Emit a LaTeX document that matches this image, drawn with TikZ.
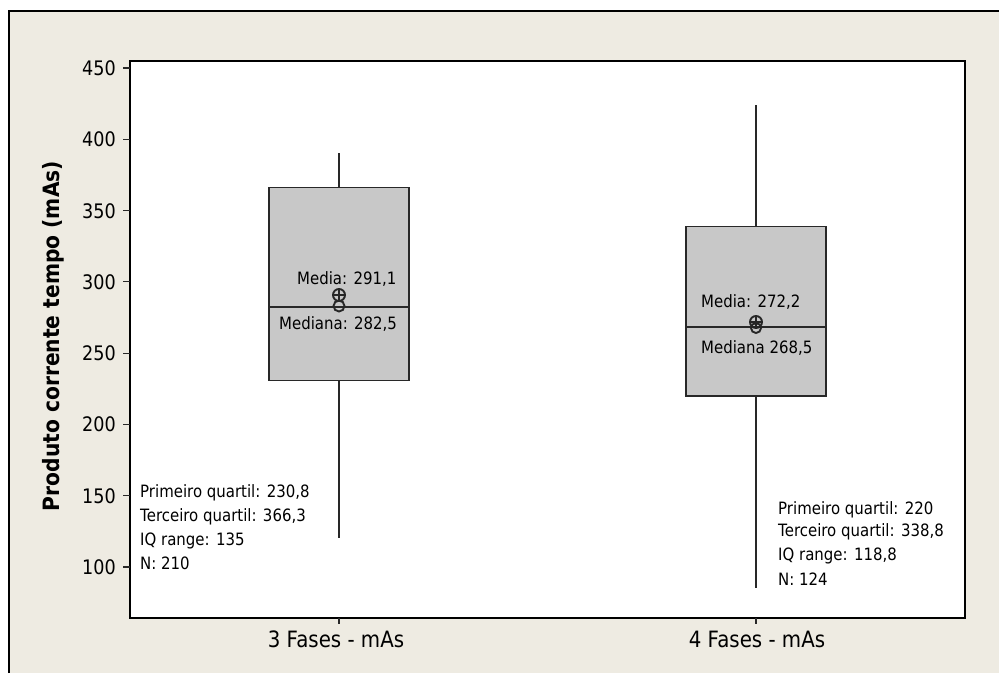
\documentclass[tikz,border=0pt]{standalone}
\usepackage{fontspec}
\setmainfont{DejaVu Sans}[FakeStretch=0.88]
\newfontfamily\titlefont{DejaVu Sans Bold}[FakeStretch=0.9]
\definecolor{bgbeige}{RGB}{238,235,226}
\definecolor{boxgray}{RGB}{200,200,200}
\definecolor{linegray}{RGB}{40,40,40}
\tikzset{
  framel/.style={line width=1.5pt, draw=black},
  boxst/.style={line width=1.5pt, draw=linegray, fill=boxgray},
  whisk/.style={line width=1.6pt, draw=linegray},
  tickl/.style={line width=1.2pt, draw=linegray},
  ticklab/.style={anchor=base east, inner sep=0pt, font=\fontsize{20}{24}\selectfont},
  annot/.style={anchor=base west, inner sep=0pt, font=\fontsize{17}{20}\selectfont},
  xlab/.style={anchor=base, inner sep=0pt, font=\fontsize{22.5}{26}\selectfont},
  meansym/.style={line width=1.9pt, draw=black!85},
}
\begin{document}
\begin{tikzpicture}[x=1pt,y=-1pt]
\useasboundingbox (0,0) rectangle (999,673);
\fill[white] (0,0) rectangle (999,673);
\fill[bgbeige] (9,11) rectangle (999,673);
\draw[line width=1.5pt] (9,673) -- (9,11) -- (999,11);
% plot area
\draw[framel, fill=white] (130,61) rectangle (965,618);
% y ticks
\foreach \v in {100,150,...,450}{
  \pgfmathsetmacro{\yy}{68+(450-\v)*1.4257}
  \draw[tickl] (123,\yy) -- (130,\yy);
  \node[ticklab] (t\v) at (116,\yy+7.5) {\v};
}
% x ticks
\draw[tickl] (339,618) -- (339,624);
\draw[tickl] (756,618) -- (756,624);
\node[xlab] (xl1) at (336,647) {3 Fases - mAs};
\node[xlab] (xl2) at (757,647) {4 Fases - mAs};
% axis title
\node[rotate=90, inner sep=0pt, font=\titlefont\fontsize{22.5}{26}\selectfont] (ytitle) at (53,336) {Produto corrente tempo (mAs)};
% box 1
\coordinate (w1t) at (339,153);
\coordinate (w1b) at (339,538);
\draw[whisk] (w1t) -- (339,187.3);
\draw[whisk] (339,380.5) -- (w1b);
\draw[boxst] (269,187.3) rectangle (409,380.5);
\draw[whisk] (269,306.8) -- (409,306.8);
\draw[meansym] (339,295) circle (6);
\draw[meansym] (333,295) -- (345,295) (339,289) -- (339,301);
\draw[meansym] (339,306) circle (5.5);
% box 2
\coordinate (w2t) at (756,105);
\coordinate (w2b) at (756,588);
\draw[whisk] (w2t) -- (756,226.5);
\draw[whisk] (756,396) -- (w2b);
\draw[boxst] (686,226.5) rectangle (826,396);
\draw[whisk] (686,326.8) -- (826,326.8);
\draw[meansym] (756,322) circle (6);
\draw[meansym] (750,322) -- (762,322) (756,316) -- (756,328);
\draw[meansym] (756,328) circle (5);
% labels in boxes
\node[annot] (m1) at (297,284) {Media: 291,1};
\node[annot] (md1) at (279,329) {Mediana: 282,5};
\node[annot] (m2) at (701,307) {Media: 272,2};
\node[annot] (md2) at (701,353) {Mediana 268,5};
% left annotation
\node[annot] (a1) at (140,497) {Primeiro quartil: 230,8};
\node[annot] (a2) at (140,521) {Terceiro quartil: 366,3};
\node[annot] (a3) at (140,545) {IQ range: 135};
\node[annot] (a4) at (140,569) {N: 210};
% right annotation
\node[annot] (b1) at (778,514) {Primeiro quartil: 220};
\node[annot] (b2) at (778,536) {Terceiro quartil: 338,8};
\node[annot] (b3) at (778,560) {IQ range: 118,8};
\node[annot] (b4) at (778,585) {N: 124};
\end{tikzpicture}
\end{document}
